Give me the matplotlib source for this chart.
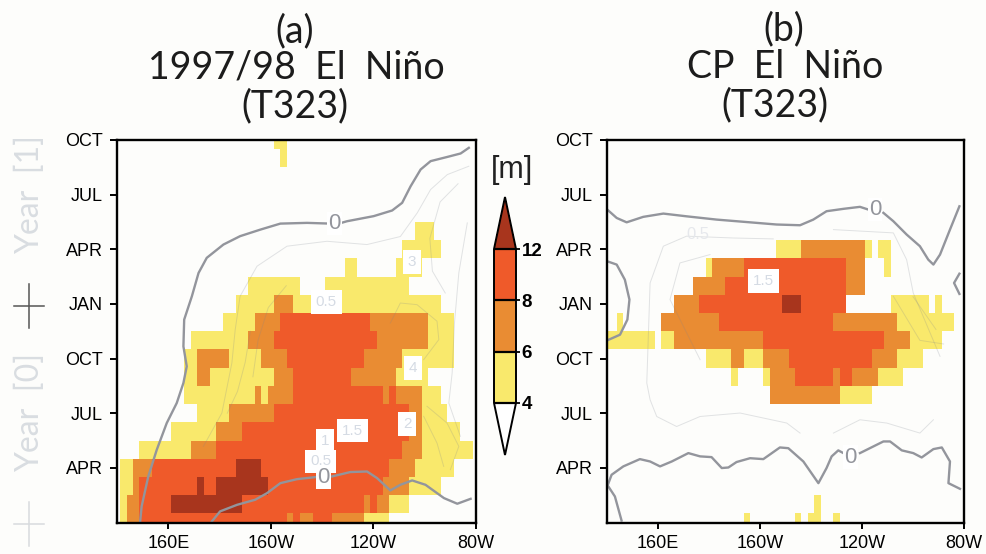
import numpy as np
import matplotlib
matplotlib.use("Agg")
import matplotlib.pyplot as plt
from matplotlib.colors import ListedColormap, BoundaryNorm
from matplotlib.cm import ScalarMappable
from matplotlib.lines import Line2D

plt.rcParams["font.family"] = ["Liberation Sans", "DejaVu Sans"]

W, H = 987, 554
BG = "#fdfdfb"

# grid : 2.5 deg / 1 month, cells centred on the grid points
lons = np.arange(0, 57) * 2.5 + 140
months = np.arange(0, 22)

# class values (m), one per colour class
Y, O, R, D = 5, 7, 10, 13

# per month : (first col, last col, value)
spans_a = [
    [(1, 1, Y), (2, 3, O), (4, 26, R), (27, 27, O), (28, 28, R), (29, 30, O), (31, 33, R), (34, 38, O), (39, 42, Y)],
    [(1, 1, Y), (2, 3, O), (4, 8, R), (9, 19, D), (20, 38, R), (39, 39, O), (40, 40, R), (41, 42, O), (43, 45, Y)],
    [(1, 2, Y), (3, 3, O), (4, 12, R), (13, 13, D), (14, 15, R), (16, 23, D), (24, 41, R), (42, 45, O), (46, 50, Y)],
    [(1, 2, Y), (3, 5, O), (6, 18, R), (19, 22, D), (23, 42, R), (43, 46, O), (47, 52, Y)],
    [(4, 11, Y), (12, 15, O), (16, 44, R), (45, 47, O), (48, 55, Y)],
    [(9, 15, Y), (16, 19, O), (20, 45, R), (46, 47, O), (48, 53, Y)],
    [(13, 17, Y), (18, 24, O), (25, 45, R), (46, 47, O), (48, 51, Y)],
    [(11, 21, Y), (22, 22, O), (23, 23, Y), (24, 27, O), (28, 41, R), (42, 42, O), (43, 43, R), (44, 47, O), (48, 50, Y)],
    [(11, 12, Y), (13, 14, O), (15, 24, Y), (25, 27, O), (28, 36, R), (37, 43, O), (44, 48, Y)],
    [(11, 12, Y), (13, 17, O), (18, 22, Y), (23, 26, O), (27, 38, R), (39, 44, O), (45, 52, Y)],
    [(12, 20, Y), (21, 24, O), (25, 40, R), (41, 48, O), (49, 52, Y)],
    [(17, 21, Y), (22, 25, O), (26, 39, R), (40, 48, O), (49, 52, Y)],
    [(19, 24, Y), (25, 27, O), (28, 50, Y)],
    [(21, 28, Y), (33, 45, Y)],
    [(36, 37, Y), (44, 47, Y)],
    [(45, 50, Y)],
    [(47, 49, Y)],
    [], [], [],
    [(26, 26, Y)],
    [(25, 26, Y)],
]

spans_b = [
    [(22, 22, Y), (30, 30, Y), (32, 33, Y), (36, 36, Y)],
    [(33, 33, Y)],
    [], [], [], [], [],
    [(26, 36, O), (37, 41, Y)],
    [(20, 20, Y), (25, 25, Y), (26, 29, O), (30, 35, R), (36, 36, O), (37, 38, R), (39, 42, O), (43, 46, Y)],
    [(16, 19, Y), (20, 21, O), (22, 24, Y), (25, 28, O), (29, 41, R), (42, 45, O), (46, 49, Y)],
    [(0, 7, Y), (9, 10, Y), (11, 24, O), (25, 43, R), (44, 47, O), (48, 52, Y)],
    [(2, 2, Y), (9, 17, O), (18, 35, R), (36, 45, O), (46, 54, Y)],
    [(11, 14, O), (15, 27, R), (28, 30, D), (31, 37, R), (45, 50, Y), (52, 52, Y)],
    [(14, 18, O), (19, 37, R), (38, 40, O)],
    [(16, 16, Y), (17, 21, O), (22, 37, R), (38, 40, O), (44, 44, Y)],
    [(27, 30, Y), (31, 40, O), (41, 41, Y), (43, 44, Y)],
    [], [], [], [], [], [],
]

# zero contours : (lon, month)
zero_a = [
    [(277.2, 20.57), (274, 20.26), (268.8, 20.07), (262.3, 19.84), (258.4, 19.38), (254.5, 18.46), (251.2, 17.55),
     (247.3, 17.13), (240.1, 16.82), (229.7, 16.54), (226.5, 16.41)],
    [(223.2, 16.41), (214.1, 16.45), (203.7, 16.41), (195.9, 16.08), (188, 15.72), (181.5, 15.26), (175, 14.53),
     (171.8, 13.7), (169.2, 12.42), (166.2, 11.14), (165.9, 9.67), (167.2, 8.57), (165.9, 7.66), (163.3, 6.56),
     (159.4, 5.46), (155.5, 3.99), (152.2, 2.53), (149.6, 0.88), (149, 0)],
    [(177, 0.06), (180.2, 0.61), (186.8, 0.97), (193.9, 1.25), (198.5, 1.61), (203.7, 2.16), (210.2, 2.38), (217.3, 2.49)],
    [(223.9, 2.53), (231, 2.77), (237.5, 2.8), (241.4, 2.44), (246.6, 1.76), (250.5, 2.07), (255.1, 2.31), (260.3, 2.07),
     (267.5, 1.34), (272.7, 1.03), (277.9, 1.3)],
]
zero_b = [
    [(140.1, 17.18), (143.8, 16.72), (147.7, 16.48), (154.2, 16.78), (162.1, 16.96), (171.2, 16.81), (183, 16.63),
     (196.1, 16.48), (206.5, 16.36), (215.7, 16.32), (220.9, 16.63), (226.1, 17.09), (232.7, 17.22), (239.2, 17.33),
     (242.5, 17.18)],
    [(248.4, 17), (252.3, 16.54), (257.5, 15.81), (262.7, 15.17), (266, 14.43), (268, 14.16), (270.6, 14.71),
     (274.5, 16.08), (278.2, 17.36)],
    [(140.1, 14.34), (143.8, 14.16), (147, 13.33), (148.8, 12.24), (148, 11.14), (145.1, 10.31), (140.1, 10)],
    [(278.2, 13.66), (276.1, 13.15), (278.2, 12.55)],
    [(140.1, 1.98), (141.8, 2.62), (146.4, 3.08), (152.9, 3.48), (156.9, 3.35), (160.8, 3.08), (165.4, 3.35),
     (171.9, 3.81), (176.5, 3.63), (181, 3.59), (185, 2.99), (187.6, 3.02), (190.8, 3.32), (196.1, 3.53), (201.3, 3.48),
     (207.8, 4.12), (211.1, 4.08), (217, 3.35), (222.9, 2.16), (226.1, 2.99), (228.1, 3.63), (230.7, 3.96), (232.7, 3.81)],
    [(239.2, 3.81), (248.4, 4.45), (251, 4.45), (255.6, 3.96), (260.1, 3.81), (263.4, 3.57), (268, 4.03), (271.3, 4.12),
     (274.5, 3.35), (273.9, 2.16), (278.4, 1.85)],
    [(140.1, 2.07), (143.1, 1.43), (145.7, 0.11)],
]

# faint contours
faint_a = [
    [(277.2, 19.56), (268.8, 19.1), (262.3, 18.28), (257.1, 17), (250.5, 15.7), (237.5, 15.26), (221.9, 15.44),
     (206.3, 15.17), (194.6, 14.07), (188, 12.42), (186.1, 10.59), (184.8, 8.76), (180.9, 6.01), (173.7, 4.18)],
    [(276.6, 16.45), (273.3, 13.7), (271.6, 10.95), (270.7, 8.21), (269.4, 6.56), (273.9, 4.73)],
    [(246.6, 10.95), (250.5, 12.05), (257, 11.96), (264.8, 11.05), (265.5, 10.04), (259.6, 8.94)],
    [(260.9, 6.38), (268.7, 5.46), (273.3, 4.18), (270, 2.9)],
    [(259.6, 5.83), (264.8, 4.36), (267.4, 3.08)],
    [(192, 10.5), (190, 8.8), (187, 7.2), (183, 6.0)],
    [(206, 13), (199, 11.8), (195, 10), (193, 8)],
    [(273, 18.6), (266, 17.6), (262, 15.6), (263, 13.8), (268, 12.6)],
]
faint_b = [
    [(215.7, 4.91), (210.5, 5.46), (192.2, 6.01), (176.5, 5.82), (167.3, 5.27), (159.5, 5.82), (156.9, 6.74),
     (155.6, 7.66), (156.9, 13.15), (162.1, 15.17), (171.2, 15.72), (189.5, 15.62), (205.2, 15.57)],
    [(228.8, 16.08), (252.3, 15.9), (257.5, 14.43), (260.1, 12.6), (270.6, 9.12)],
    [(176.5, 8.94), (164.7, 12.24), (168.6, 14.25), (180.4, 14.71)],
    [(228.8, 4.91), (239.2, 5.64), (249.7, 5.46), (262.7, 4.91), (268, 5.64)],
    [(252.3, 12.42), (262.7, 10.0), (272, 9.8)],
    [(260, 12.4), (269, 10.6)],
]

# contour labels : (lon, month, text)
labels_a = [(231.8, 5.05, "1.5"), (253.2, 5.42, "2"), (255.4, 8.48, "4"), (221.6, 12.1, "0.5"),
            (221, 4.5, "1"), (219.5, 3.35, "0.5"), (255, 14.3, "3")]
labels_b = [(201.5, 13.26, "1.5")]
zero_labels_a = [(224.9, 16.41), (220.6, 2.49)]
zero_labels_b = [(245.1, 17.18), (235.6, 3.59)]

faint_labels_b = [(175.8, 15.8, "0.5")]

month_ticks = [3, 6, 9, 12, 15, 18, 21]
month_names = ["APR", "JUL", "OCT", "JAN", "APR", "JUL", "OCT"]
lon_ticks = [160, 200, 240, 280]
lon_names = ["160E", "160W", "120W", "80W"]
levels = [4, 6, 8, 12]
colors = ["#f9e96c", "#e98c33", "#ef5a2a"]
over_color = "#a8351d"
zero_color = "#93959c"


def to_grid(spans):
    g = np.full((len(months), len(lons)), np.nan)
    for m, row in enumerate(spans):
        for c0, c1, v in row:
            g[m, c0:c1 + 1] = v
    return g


def box(l, t, r, b):
    return [l / W, 1 - b / H, (r - l) / W, (b - t) / H]


cmap = ListedColormap(colors)
cmap.set_under("white")
cmap.set_over(over_color)
cmap.set_bad((0, 0, 0, 0))
norm = BoundaryNorm(levels, cmap.N)

fig = plt.figure(figsize=(W / 100, H / 100), dpi=100, facecolor=BG)


def panel(pos, spans, zero, faint, labs, zlabs):
    ax = fig.add_axes(box(*pos))
    ax.set_facecolor(BG)
    ax.pcolormesh(lons, months, np.ma.masked_invalid(to_grid(spans)), cmap=cmap, norm=norm,
                  shading="nearest", antialiased=False, zorder=1)
    for c in faint:
        c = np.array(c)
        ax.plot(c[:, 0], c[:, 1], color="#7d838f", alpha=0.22, lw=0.7, zorder=2)
    for c in zero:
        c = np.array(c)
        ax.plot(c[:, 0], c[:, 1], color=zero_color, lw=1.7, zorder=3)
    for lo, mo, t in labs:
        ax.text(lo, mo, t, fontsize=11, color="#d5dbe4", ha="center", va="center", zorder=4,
                bbox=dict(facecolor="white", edgecolor="none", pad=3.5))
    for lo, mo in zlabs:
        ax.text(lo, mo, "0", fontsize=16, color=zero_color, ha="center", va="center", zorder=5,
                bbox=dict(facecolor="white", edgecolor="none", pad=0.8))
    ax.set_xlim(140, 280)
    ax.set_ylim(0, 21)
    ax.set_xticks(lon_ticks)
    ax.set_xticklabels(lon_names)
    ax.set_yticks(month_ticks)
    ax.set_yticklabels(month_names)
    ax.tick_params(axis="x", labelsize=13, length=4, width=1.4, pad=5)
    ax.tick_params(axis="y", labelsize=13, length=5, width=1.4, pad=5)
    for s in ax.spines.values():
        s.set_linewidth(1.7)
        s.set_zorder(10)
    return ax


ax_a = panel((117, 140, 476, 522.5), spans_a, zero_a, faint_a, labels_a, zero_labels_a)
ax_b = panel((607, 140, 964, 522.5), spans_b, zero_b, faint_b, labels_b, zero_labels_b)
for lo, mo, t in faint_labels_b:
    ax_b.text(lo, mo, t, fontsize=12, color="#e6e8ec", ha="center", va="center", zorder=2)

# colour bar, the tips are inside the axes box
cax = fig.add_axes(box(494, 197, 516, 455))
cb = fig.colorbar(ScalarMappable(norm=norm, cmap=cmap), cax=cax, extend="both", extendfrac=0.338,
                  drawedges=True, spacing="uniform", ticks=levels)
cb.ax.tick_params(labelsize=13.5, length=3, width=1.3, pad=1)
cb.outline.set_linewidth(1.4)
cb.dividers.set_linewidth(1.6)
for lab in cb.ax.get_yticklabels():
    lab.set_fontweight("bold")
fig.text(512 / W, 1 - 170 / H, "[m]", fontsize=22, ha="center", va="center", color="#222222")


# titles
def title(x, y, s):
    fig.text(x / W, 1 - y / H, s, fontsize=27, ha="center", va="center", color="#1c1c1c",
             family=["Lato", "Liberation Sans"])


title(295, 31, "(a)")
title(296.5, 68, "1997/98  El  Niño")
title(295, 106, "(T323)")
title(784, 29, "(b)")
title(785, 67, "CP  El  Niño")
title(775, 105, "(T323)")

# year labels on the far left
year_color = "#d9dde1"
fig.text(30 / W, 1 - 195 / H, "Year  [1]", fontsize=23, rotation=90, ha="center", va="center",
         color=year_color, family=["Lato", "Liberation Sans"])
fig.text(30 / W, 1 - 412 / H, "Year  [0]", fontsize=23, rotation=90, ha="center", va="center",
         color=year_color, family=["Lato", "Liberation Sans"])
crosses = [(306, "#555555"), (524, "#d8dbde")]
for yc, col in crosses:
    fig.add_artist(Line2D([14 / W, 44 / W], [1 - yc / H, 1 - yc / H], color=col, lw=1.1))
    fig.add_artist(Line2D([29 / W, 29 / W], [1 - (yc - 22) / H, 1 - (yc + 22) / H], color=col, lw=1.1))

fig.savefig("out.png", dpi=100, facecolor=BG)
